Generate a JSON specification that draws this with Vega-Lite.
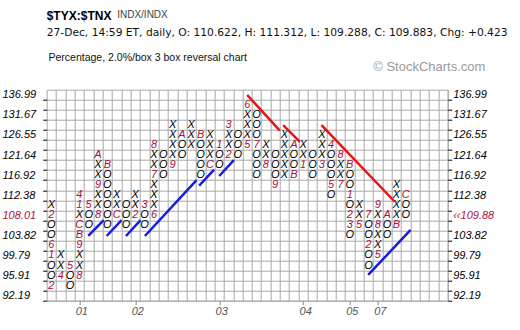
{
  "$schema": "https://vega.github.io/schema/vega-lite/v6.json",
  "width": 401,
  "height": 211,
  "autosize": "none",
  "padding": {"left": 46.7, "top": 89.7, "right": 72.3, "bottom": 29.3},
  "background": "white",
  "title": {
    "text": "$TYX:$TNX",
    "subtitle": "27-Dec, 14:59 ET, daily, O: 110.622, H: 111.312, L: 109.288, C: 109.883, Chg: +0.423",
    "anchor": "start",
    "frame": "group",
    "font": "Liberation Sans",
    "fontSize": 12,
    "fontWeight": "bold",
    "color": "black",
    "subtitleFont": "DejaVu Sans",
    "subtitleFontSize": 10.7,
    "subtitleColor": "#111111",
    "subtitlePadding": 5,
    "offset": -30
  },
  "config": {
    "view": {"stroke": "#a8a8a8", "strokeWidth": 1},
    "axis": {"domain": false, "labelFont": "Liberation Sans", "titleFont": "Liberation Sans"}
  },
  "datasets": {
    "boxes": [
      {"c": 0, "p": 110.17, "s": "X"}, {"c": 0, "p": 108.01, "s": "2"}, {"c": 0, "p": 105.9, "s": "O"}, {"c": 0, "p": 103.82, "s": "O"}, {"c": 0, "p": 101.78, "s": "6"}, {"c": 0, "p": 99.79, "s": "1"}, {"c": 0, "p": 97.83, "s": "O"}, {"c": 0, "p": 95.91, "s": "O"}, {"c": 0, "p": 94.03, "s": "2"},
      {"c": 1, "p": 99.79, "s": "X"}, {"c": 1, "p": 97.83, "s": "X"}, {"c": 1, "p": 95.91, "s": "4"},
      {"c": 2, "p": 97.83, "s": "5"}, {"c": 2, "p": 95.91, "s": "O"}, {"c": 2, "p": 94.03, "s": "O"},
      {"c": 3, "p": 95.91, "s": "8"}, {"c": 3, "p": 97.83, "s": "X"}, {"c": 3, "p": 99.79, "s": "X"}, {"c": 3, "p": 101.78, "s": "9"}, {"c": 3, "p": 103.82, "s": "B"}, {"c": 3, "p": 105.9, "s": "C"}, {"c": 3, "p": 108.01, "s": "X"}, {"c": 3, "p": 110.17, "s": "1"}, {"c": 3, "p": 112.38, "s": "4"},
      {"c": 4, "p": 110.17, "s": "5"}, {"c": 4, "p": 108.01, "s": "O"}, {"c": 4, "p": 105.9, "s": "O"},
      {"c": 5, "p": 108.01, "s": "8"}, {"c": 5, "p": 110.17, "s": "X"}, {"c": 5, "p": 112.38, "s": "X"}, {"c": 5, "p": 114.62, "s": "9"}, {"c": 5, "p": 116.92, "s": "X"}, {"c": 5, "p": 119.26, "s": "X"}, {"c": 5, "p": 121.64, "s": "A"},
      {"c": 6, "p": 119.26, "s": "B"}, {"c": 6, "p": 116.92, "s": "O"}, {"c": 6, "p": 114.62, "s": "O"}, {"c": 6, "p": 112.38, "s": "O"}, {"c": 6, "p": 110.17, "s": "O"}, {"c": 6, "p": 108.01, "s": "O"}, {"c": 6, "p": 105.9, "s": "O"},
      {"c": 7, "p": 108.01, "s": "C"}, {"c": 7, "p": 110.17, "s": "X"}, {"c": 7, "p": 112.38, "s": "X"},
      {"c": 8, "p": 110.17, "s": "O"}, {"c": 8, "p": 108.01, "s": "O"}, {"c": 8, "p": 105.9, "s": "O"},
      {"c": 9, "p": 108.01, "s": "2"}, {"c": 9, "p": 110.17, "s": "X"}, {"c": 9, "p": 112.38, "s": "X"},
      {"c": 10, "p": 110.17, "s": "3"}, {"c": 10, "p": 108.01, "s": "O"}, {"c": 10, "p": 105.9, "s": "O"},
      {"c": 11, "p": 108.01, "s": "6"}, {"c": 11, "p": 110.17, "s": "X"}, {"c": 11, "p": 112.38, "s": "X"}, {"c": 11, "p": 114.62, "s": "X"}, {"c": 11, "p": 116.92, "s": "7"}, {"c": 11, "p": 119.26, "s": "X"}, {"c": 11, "p": 121.64, "s": "X"}, {"c": 11, "p": 124.07, "s": "8"},
      {"c": 12, "p": 121.64, "s": "O"}, {"c": 12, "p": 119.26, "s": "O"}, {"c": 12, "p": 116.92, "s": "O"},
      {"c": 13, "p": 119.26, "s": "9"}, {"c": 13, "p": 121.64, "s": "X"}, {"c": 13, "p": 124.07, "s": "X"}, {"c": 13, "p": 126.55, "s": "X"}, {"c": 13, "p": 129.09, "s": "X"},
      {"c": 14, "p": 126.55, "s": "A"}, {"c": 14, "p": 124.07, "s": "O"}, {"c": 14, "p": 121.64, "s": "O"},
      {"c": 15, "p": 124.07, "s": "X"}, {"c": 15, "p": 126.55, "s": "X"}, {"c": 15, "p": 129.09, "s": "X"},
      {"c": 16, "p": 126.55, "s": "B"}, {"c": 16, "p": 124.07, "s": "O"}, {"c": 16, "p": 121.64, "s": "O"}, {"c": 16, "p": 119.26, "s": "O"}, {"c": 16, "p": 116.92, "s": "O"},
      {"c": 17, "p": 119.26, "s": "C"}, {"c": 17, "p": 121.64, "s": "X"}, {"c": 17, "p": 124.07, "s": "X"}, {"c": 17, "p": 126.55, "s": "X"},
      {"c": 18, "p": 124.07, "s": "1"}, {"c": 18, "p": 121.64, "s": "O"}, {"c": 18, "p": 119.26, "s": "O"},
      {"c": 19, "p": 121.64, "s": "2"}, {"c": 19, "p": 124.07, "s": "X"}, {"c": 19, "p": 126.55, "s": "X"}, {"c": 19, "p": 129.09, "s": "3"},
      {"c": 20, "p": 126.55, "s": "O"}, {"c": 20, "p": 124.07, "s": "O"}, {"c": 20, "p": 121.64, "s": "O"},
      {"c": 21, "p": 124.07, "s": "5"}, {"c": 21, "p": 126.55, "s": "X"}, {"c": 21, "p": 129.09, "s": "X"}, {"c": 21, "p": 131.67, "s": "X"}, {"c": 21, "p": 134.3, "s": "6"},
      {"c": 22, "p": 131.67, "s": "O"}, {"c": 22, "p": 129.09, "s": "O"}, {"c": 22, "p": 126.55, "s": "O"}, {"c": 22, "p": 124.07, "s": "7"}, {"c": 22, "p": 121.64, "s": "O"}, {"c": 22, "p": 119.26, "s": "O"}, {"c": 22, "p": 116.92, "s": "O"},
      {"c": 23, "p": 119.26, "s": "8"}, {"c": 23, "p": 121.64, "s": "X"}, {"c": 23, "p": 124.07, "s": "X"},
      {"c": 24, "p": 121.64, "s": "O"}, {"c": 24, "p": 119.26, "s": "O"}, {"c": 24, "p": 116.92, "s": "O"}, {"c": 24, "p": 114.62, "s": "9"},
      {"c": 25, "p": 116.92, "s": "X"}, {"c": 25, "p": 119.26, "s": "X"}, {"c": 25, "p": 121.64, "s": "X"}, {"c": 25, "p": 124.07, "s": "X"}, {"c": 25, "p": 126.55, "s": "X"},
      {"c": 26, "p": 124.07, "s": "A"}, {"c": 26, "p": 121.64, "s": "O"}, {"c": 26, "p": 119.26, "s": "O"}, {"c": 26, "p": 116.92, "s": "B"},
      {"c": 27, "p": 119.26, "s": "1"}, {"c": 27, "p": 121.64, "s": "X"}, {"c": 27, "p": 124.07, "s": "X"},
      {"c": 28, "p": 121.64, "s": "O"}, {"c": 28, "p": 119.26, "s": "O"}, {"c": 28, "p": 116.92, "s": "O"},
      {"c": 29, "p": 119.26, "s": "3"}, {"c": 29, "p": 121.64, "s": "X"}, {"c": 29, "p": 124.07, "s": "X"}, {"c": 29, "p": 126.55, "s": "X"},
      {"c": 30, "p": 124.07, "s": "4"}, {"c": 30, "p": 121.64, "s": "O"}, {"c": 30, "p": 119.26, "s": "O"}, {"c": 30, "p": 116.92, "s": "O"}, {"c": 30, "p": 114.62, "s": "5"}, {"c": 30, "p": 112.38, "s": "O"},
      {"c": 31, "p": 114.62, "s": "7"}, {"c": 31, "p": 116.92, "s": "X"}, {"c": 31, "p": 119.26, "s": "X"}, {"c": 31, "p": 121.64, "s": "8"},
      {"c": 32, "p": 119.26, "s": "B"}, {"c": 32, "p": 116.92, "s": "O"}, {"c": 32, "p": 114.62, "s": "O"}, {"c": 32, "p": 112.38, "s": "1"}, {"c": 32, "p": 110.17, "s": "O"}, {"c": 32, "p": 108.01, "s": "2"}, {"c": 32, "p": 105.9, "s": "3"}, {"c": 32, "p": 103.82, "s": "O"},
      {"c": 33, "p": 105.9, "s": "5"}, {"c": 33, "p": 108.01, "s": "X"}, {"c": 33, "p": 110.17, "s": "X"},
      {"c": 34, "p": 108.01, "s": "7"}, {"c": 34, "p": 105.9, "s": "O"}, {"c": 34, "p": 103.82, "s": "O"}, {"c": 34, "p": 101.78, "s": "2"}, {"c": 34, "p": 99.79, "s": "O"}, {"c": 34, "p": 97.83, "s": "O"},
      {"c": 35, "p": 99.79, "s": "5"}, {"c": 35, "p": 101.78, "s": "X"}, {"c": 35, "p": 103.82, "s": "X"}, {"c": 35, "p": 105.9, "s": "8"}, {"c": 35, "p": 108.01, "s": "X"}, {"c": 35, "p": 110.17, "s": "9"},
      {"c": 36, "p": 108.01, "s": "A"}, {"c": 36, "p": 105.9, "s": "O"}, {"c": 36, "p": 103.82, "s": "O"},
      {"c": 37, "p": 105.9, "s": "B"}, {"c": 37, "p": 108.01, "s": "X"}, {"c": 37, "p": 110.17, "s": "X"}, {"c": 37, "p": 112.38, "s": "X"}, {"c": 37, "p": 114.62, "s": "X"},
      {"c": 38, "p": 112.38, "s": "C"}, {"c": 38, "p": 110.17, "s": "O"}, {"c": 38, "p": 108.01, "s": "O"}
    ],
    "trends": [
      {"kind": "support", "c1": 3.95, "p1": 103.7, "c2": 5.62, "p2": 107.0},
      {"kind": "support", "c1": 5.93, "p1": 103.7, "c2": 7.53, "p2": 107.0},
      {"kind": "support", "c1": 8.0, "p1": 103.7, "c2": 9.57, "p2": 107.0},
      {"kind": "support", "c1": 10.03, "p1": 103.7, "c2": 15.57, "p2": 115.79},
      {"kind": "support", "c1": 15.85, "p1": 114.51, "c2": 17.45, "p2": 118.2},
      {"kind": "support", "c1": 18.0, "p1": 116.71, "c2": 19.57, "p2": 120.44},
      {"kind": "support", "c1": 33.97, "p1": 96.03, "c2": 38.52, "p2": 104.94},
      {"kind": "resistance", "c1": 21.0, "p1": 136.91, "c2": 24.5, "p2": 127.61},
      {"kind": "resistance", "c1": 24.86, "p1": 129.04, "c2": 26.65, "p2": 124.86},
      {"kind": "resistance", "c1": 28.97, "p1": 129.04, "c2": 36.83, "p2": 110.94}
    ]
  },
  "layer": [
    {
      "data": {"name": "boxes"},
      "mark": {"type": "text", "font": "Liberation Sans", "fontSize": 11, "fontStyle": "italic", "baseline": "middle", "align": "center"},
      "encoding": {
        "x": {
          "field": "c", "type": "quantitative",
          "scale": {"domain": [-0.5, 42.5], "nice": false, "zero": false},
          "axis": {"orient": "bottom", "values": [0,1,2,3,4,5,6,7,8,9,10,11,12,13,14,15,16,17,18,19,20,21,22,23,24,25,26,27,28,29,30,31,32,33,34,35,36,37,38,39,40,41,42], "tickOffset": 4.66, "grid": true, "gridColor": "#a8a8a8", "gridOpacity": 1, "gridWidth": 1, "labels": false, "ticks": false,
            "title": "Percentage, 2.0%/box 3 box reversal chart", "titleX": 1.3, "titleY": -243.7, "titleAlign": "left", "titleBaseline": "middle", "titleAngle": 0, "titleFontSize": 10.5, "titleFontWeight": "normal", "titleColor": "#111111"}
        },
        "y": {
          "field": "p", "type": "quantitative",
          "scale": {"type": "log", "domain": [91.282, 138.353], "nice": false, "zero": false},
          "axis": {
            "orient": "left",
            "values": [92.19, 94.03, 95.91, 97.83, 99.79, 101.78, 103.82, 105.9, 108.01, 110.17, 112.38, 114.62, 116.92, 119.26, 121.64, 124.07, 126.55, 129.09, 131.67, 134.3, 136.99],
            "format": ".5~r",
            "tickOffset": 5.02, "labelOffset": -5.02,
            "grid": true, "gridColor": "#a8a8a8", "gridOpacity": 1, "gridWidth": 1,
            "ticks": true, "tickSize": 4, "tickColor": "black", "tickWidth": 1,
            "labelAlign": "left", "labelBaseline": "middle", "labelPadding": 40.7,
            "labelFontSize": 11, "labelFontStyle": "italic",
            "labelColor": {"condition": {"test": "datum.value == 108.01", "value": "#b0103a"}, "value": "black"},
            "title": "INDX/INDX", "titleAngle": 0, "titleAlign": "left", "titleBaseline": "alphabetic",
            "titleX": 70, "titleY": -72.7, "titleFontSize": 10, "titleFontWeight": "normal", "titleColor": "#444444"
          }
        },
        "text": {"field": "s"},
        "color": {"condition": {"test": "datum.s === 'X' || datum.s === 'O'", "value": "black"}, "value": "#a8103c"}
      }
    },
    {
      "data": {"name": "trends"},
      "mark": {"type": "rule", "strokeWidth": 2.5, "strokeCap": "butt"},
      "encoding": {
        "x": {
          "field": "c1", "type": "quantitative",
          "axis": {"orient": "bottom", "values": [3, 9, 18, 27, 32, 35], "labelExpr": "datum.value == 3 ? '01' : datum.value == 9 ? '02' : datum.value == 18 ? '03' : datum.value == 27 ? '04' : datum.value == 32 ? '05' : '07'", "grid": false, "ticks": true, "tickSize": 4, "tickColor": "#888888", "labelOffset": 2, "labelPadding": 1, "labelFontSize": 11, "labelFontStyle": "italic", "labelColor": "#555555", "title": null}
        },
        "x2": {"field": "c2"},
        "y": {
          "field": "p1", "type": "quantitative",
          "axis": {
            "orient": "right",
            "values": [92.19, 94.03, 95.91, 97.83, 99.79, 101.78, 103.82, 105.9, 108.01, 110.17, 112.38, 114.62, 116.92, 119.26, 121.64, 124.07, 126.55, 129.09, 131.67, 134.3, 136.99],
            "format": ".5~r",
            "labelExpr": "datum.value == 108.01 ? '‹‹109.88' : datum.label",
            "tickOffset": 5.02, "labelOffset": -5.02,
            "grid": false,
            "ticks": true, "tickSize": 4, "tickColor": "black", "tickWidth": 1,
            "labelAlign": "left", "labelBaseline": "middle", "labelPadding": 1,
            "labelFontSize": 11, "labelFontStyle": "italic",
            "labelColor": {"condition": {"test": "datum.value == 108.01", "value": "#b0103a"}, "value": "black"},
            "title": "© StockCharts.com", "titleAngle": 0, "titleAlign": "left", "titleBaseline": "alphabetic",
            "titleX": -75, "titleY": -19, "titleFontSize": 13, "titleFontWeight": "normal", "titleColor": "#9a9a9a"
          }
        },
        "y2": {"field": "p2"},
        "color": {"field": "kind", "type": "nominal", "scale": {"domain": ["support", "resistance"], "range": ["#1a1ae0", "#e81414"]}, "legend": null}
      }
    }
  ],
  "resolve": {"axis": {"x": "independent", "y": "independent"}}
}
